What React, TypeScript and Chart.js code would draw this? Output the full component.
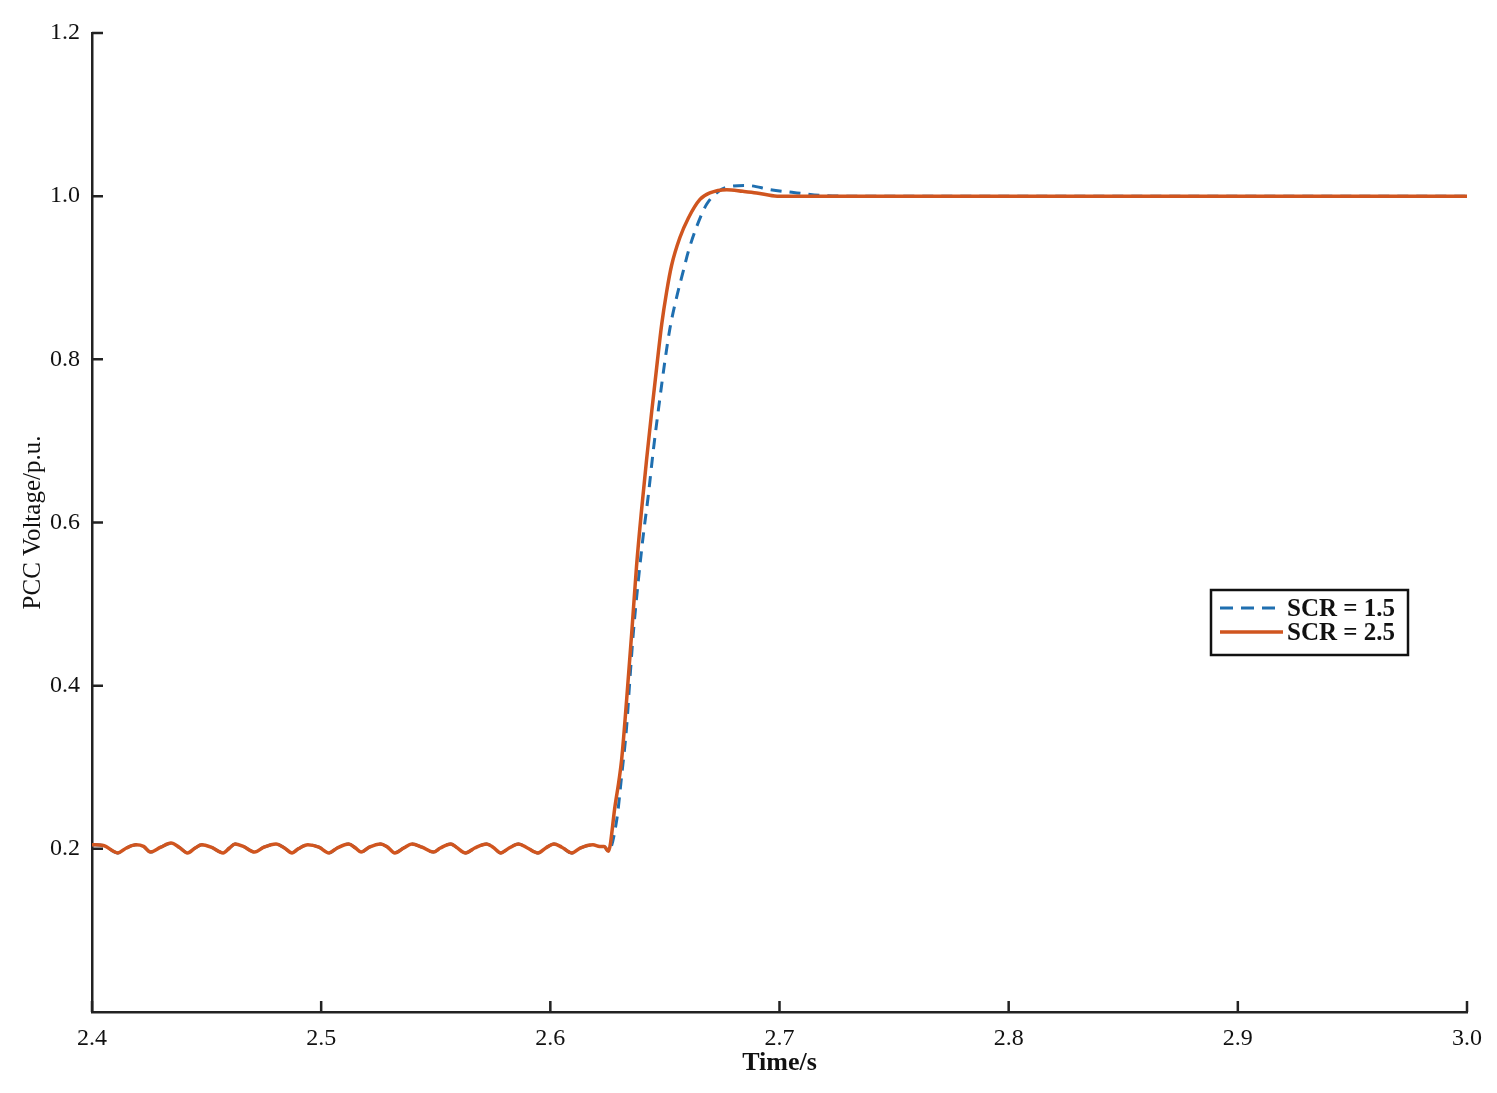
import React, { useEffect, useRef } from "react";
import { Chart, registerables } from "chart.js";

Chart.register(...registerables);

// Shared pre-fault ripple (both cases overlap here)
const rippleTime = [
  2.4, 2.405, 2.4113, 2.415, 2.4192, 2.4225, 2.4255, 2.43, 2.4345, 2.438,
  2.4417, 2.445, 2.4479, 2.452, 2.4572, 2.46, 2.4624, 2.466, 2.471, 2.475,
  2.4803, 2.484, 2.4873, 2.49, 2.4942, 2.499, 2.5034, 2.507, 2.512, 2.515,
  2.5174, 2.521, 2.5259, 2.529, 2.5321, 2.536, 2.5396, 2.544, 2.549, 2.552,
  2.5566, 2.559, 2.563, 2.567, 2.5722, 2.575, 2.5784, 2.582, 2.5861, 2.59,
  2.5946, 2.598, 2.6016, 2.605, 2.6093, 2.613, 2.6186, 2.6215, 2.6235,
];
const rippleVolt = [
  0.205, 0.204, 0.195, 0.201, 0.205, 0.203, 0.196, 0.202, 0.207, 0.202,
  0.195, 0.201, 0.205, 0.202, 0.195, 0.201, 0.206, 0.203, 0.196, 0.202,
  0.206, 0.201, 0.195, 0.2, 0.205, 0.202, 0.195, 0.201, 0.206, 0.201,
  0.196, 0.202, 0.206, 0.202, 0.195, 0.201, 0.206, 0.202, 0.196, 0.201,
  0.206, 0.202, 0.195, 0.201, 0.206, 0.202, 0.195, 0.201, 0.206, 0.201,
  0.195, 0.201, 0.206, 0.202, 0.195, 0.201, 0.205, 0.203, 0.203,
];

// SCR = 1.5 recovery
const scr15Time = [
  2.6253, 2.629, 2.6311, 2.6333, 2.6347, 2.6362, 2.6384, 2.6405, 2.6427, 2.645,
  2.6478, 2.65, 2.6522, 2.6551, 2.658, 2.6602, 2.6639, 2.6682, 2.6735, 2.677,
  2.686, 2.696, 2.7076, 2.7176, 2.73, 3.0,
];
const scr15Volt = [
  0.197, 0.236, 0.289, 0.35, 0.407, 0.464, 0.529, 0.583, 0.632, 0.69,
  0.752, 0.798, 0.838, 0.876, 0.908, 0.932, 0.963, 0.99, 1.006, 1.011,
  1.013, 1.008, 1.004, 1.001, 1.0, 1.0,
];

// SCR = 2.5 recovery
const scr25Time = [
  2.6253, 2.6282, 2.6311, 2.6333, 2.6355, 2.6376, 2.6398, 2.642, 2.6442, 2.6464,
  2.6486, 2.6507, 2.6529, 2.6565, 2.6602, 2.6653, 2.6696, 2.677, 2.684, 2.69,
  2.699, 2.72, 3.0,
];
const scr25Volt = [
  0.197, 0.252, 0.309, 0.383, 0.464, 0.546, 0.615, 0.677, 0.735, 0.79,
  0.843, 0.882, 0.915, 0.949, 0.973, 0.996, 1.004, 1.008, 1.006, 1.004,
  1.0, 1.0, 1.0,
];

const seriesLabels = ["SCR = 1.5", "SCR = 2.5"];
const seriesColors = ["#1f6fb0", "#d0551f"];
const xTitle = "Time/s";
const yTitle = "PCC Voltage/p.u.";

const FONT = "'Liberation Serif', 'DejaVu Serif', serif";

const inwardTicks = {
  id: "inwardTicks",
  afterDraw(chart: any) {
    const { ctx, chartArea, scales } = chart;
    ctx.save();
    ctx.strokeStyle = "#222";
    ctx.lineWidth = 2.5;
    ctx.beginPath();
    scales.x.ticks.forEach((t: any) => {
      const px = scales.x.getPixelForValue(t.value);
      ctx.moveTo(px, chartArea.bottom);
      ctx.lineTo(px, chartArea.bottom - 11);
    });
    scales.y.ticks.forEach((t: any) => {
      if (t.value === 0) return;
      const py = scales.y.getPixelForValue(t.value);
      ctx.moveTo(chartArea.left, py);
      ctx.lineTo(chartArea.left + 11, py);
    });
    ctx.stroke();
    ctx.restore();
  },
};

const boxLegend = {
  id: "boxLegend",
  afterDraw(chart: any) {
    const { ctx } = chart;
    const ds = chart.data.datasets;
    const bx = 1211, by = 590, bw = 197, bh = 65;
    ctx.save();
    ctx.fillStyle = "#fff";
    ctx.fillRect(bx, by, bw, bh);
    ctx.strokeStyle = "#111";
    ctx.lineWidth = 2.5;
    ctx.strokeRect(bx, by, bw, bh);
    const rows = [608, 632];
    ds.forEach((d: any, i: number) => {
      const y = rows[i];
      ctx.beginPath();
      ctx.strokeStyle = d.borderColor;
      ctx.lineWidth = d.borderWidth;
      ctx.setLineDash(d.borderDash ? [13, 8] : []);
      ctx.moveTo(1220, y);
      ctx.lineTo(1283, y);
      ctx.stroke();
      ctx.setLineDash([]);
      ctx.fillStyle = "#111";
      ctx.font = `bold 25px ${FONT}`;
      ctx.textBaseline = "middle";
      ctx.textAlign = "left";
      ctx.fillText(d.label, 1287, y + 2);
    });
    ctx.restore();
  },
};

export default function App() {
  const ref = useRef<HTMLCanvasElement | null>(null);

  useEffect(() => {
    if (!ref.current) return;
    const v15 = [...rippleVolt, ...scr15Volt];
    const v25 = [...rippleVolt, ...scr25Volt];
    const d15 = [...rippleTime, ...scr15Time].map((t, i) => ({ x: t, y: v15[i] }));
    const d25 = [...rippleTime, ...scr25Time].map((t, i) => ({ x: t, y: v25[i] }));
    const chart = new Chart(ref.current, {
      type: "line",
      data: {
        datasets: [
          {
            label: seriesLabels[0],
            data: d15,
            borderColor: seriesColors[0],
            borderWidth: 3,
            borderDash: [11, 8],
            pointRadius: 0,
            fill: false,
            cubicInterpolationMode: "monotone",
            order: 1,
          },
          {
            label: seriesLabels[1],
            data: d25,
            borderColor: seriesColors[1],
            borderWidth: 3.5,
            pointRadius: 0,
            fill: false,
            cubicInterpolationMode: "monotone",
            order: 0,
          },
        ],
      },
      options: {
        animation: false,
        responsive: true,
        maintainAspectRatio: false,
        layout: { padding: { left: 0, right: 30, top: 33, bottom: 0 } },
        plugins: { legend: { display: false }, tooltip: { enabled: false } },
        scales: {
          x: {
            type: "linear",
            min: 2.4,
            max: 3.0,
            afterFit: (s: any) => {
              s.height = 81;
            },
            border: { display: true, color: "#222", width: 2.5 },
            grid: { display: true, drawOnChartArea: false, drawTicks: false },
            ticks: {
              stepSize: 0.1,
              padding: 12,
              color: "#111",
              font: { family: FONT, size: 24 },
              callback: (v: any) => Number(v).toFixed(1),
            },
            title: {
              display: true,
              text: xTitle,
              color: "#111",
              font: { family: FONT, size: 26, weight: "bold" },
              padding: { top: 0, bottom: 14 },
            },
          },
          y: {
            min: 0,
            max: 1.2,
            afterFit: (s: any) => {
              s.width = 92;
            },
            border: { display: true, color: "#222", width: 2.5 },
            grid: { display: true, drawOnChartArea: false, drawTicks: false },
            ticks: {
              stepSize: 0.2,
              padding: 12,
              color: "#111",
              font: { family: FONT, size: 24 },
              callback: (v: any) => (Number(v) === 0 ? "" : Number(v).toFixed(1)),
            },
            title: {
              display: true,
              text: yTitle,
              color: "#111",
              font: { family: FONT, size: 25 },
              padding: { top: 18, bottom: 0 },
            },
          },
        },
      },
      plugins: [inwardTicks, boxLegend],
    });
    return () => chart.destroy();
  }, []);

  return (
    <div
      style={{
        position: "absolute",
        left: 0,
        top: 0,
        width: 1497,
        height: 1093,
        background: "#fff",
      }}
    >
      <canvas ref={ref} />
    </div>
  );
}
